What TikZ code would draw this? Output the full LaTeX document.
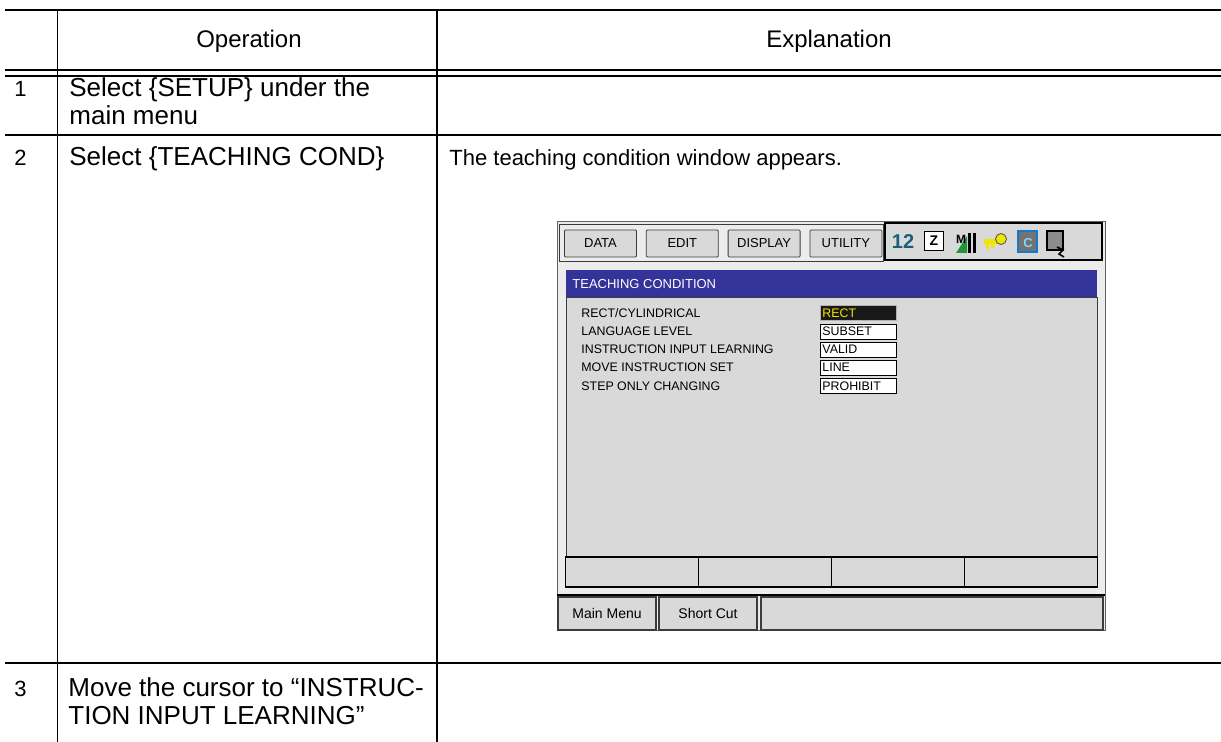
\documentclass[tikz,border=0pt]{standalone}
\usepackage{fontspec}
\setmainfont{Liberation Sans}
\usepackage{tikz}
\usetikzlibrary{positioning, calc}
\definecolor{tcTitle}{RGB}{51,51,153}
\definecolor{tcPanel}{RGB}{217,217,217}
\definecolor{tcFrame}{RGB}{236,236,236}
\definecolor{tcEdge}{RGB}{60,60,60}
\definecolor{tcYellow}{RGB}{240,230,0}
\definecolor{tcTeal}{RGB}{25,95,125}
\definecolor{tcGreen}{RGB}{30,150,60}

\begin{document}
\begin{tikzpicture}[x=0.5pt, y=-0.5pt,
    numtext/.style={anchor=base west, inner sep=0pt, font=\fontsize{11}{13}\selectfont},
    optext/.style={anchor=base west, inner sep=0pt, font=\fontsize{13}{15}\selectfont},
    extext/.style={anchor=base west, inner sep=0pt, font=\fontsize{11}{13}\selectfont},
    headtext/.style={anchor=base, inner sep=0pt, font=\fontsize{12}{14}\selectfont},
    menubtn/.style={draw=tcEdge, fill=tcPanel, rounded corners=0.5pt, minimum width=36pt, minimum height=13.5pt, inner sep=0pt, font=\fontsize{6.5}{7}\selectfont},
    setlabel/.style={anchor=west, inner sep=0pt, font=\fontsize{6.2}{7}\selectfont},
    valbox/.style={draw=black, fill=white, anchor=west, inner xsep=1pt, inner ysep=0pt, text width=36pt, minimum height=7.5pt, font=\fontsize{6.2}{7}\selectfont},
    fkey/.style={draw=black, line width=0.6pt, fill=tcPanel, minimum width=66.5pt, minimum height=15pt, inner sep=0pt},
    statbtn/.style={draw=tcEdge, line width=0.7pt, fill=tcPanel, minimum height=16.5pt, inner sep=0pt, font=\fontsize{7}{8}\selectfont}]
  \useasboundingbox (0,0) rectangle (1221,742);

  \draw[line width=1pt] (5,10) -- (1221,10);
  \draw[line width=1pt] (5,70) -- (1221,70);
  \draw[line width=1pt] (5,76) -- (1221,76);
  \draw[line width=0.6pt] (5,135) -- (1221,135);
  \draw[line width=0.6pt] (5,663) -- (1221,663);
  \draw[line width=0.6pt] (57.5,10) -- (57.5,742);
  \draw[line width=0.6pt] (437,10) -- (437,742);

  \node[headtext] (hop) at (249,48) {Operation};
  \node[headtext] (hex) at (829,48) {Explanation};

  \node[numtext] (n1) at (14,97) {1};
  \node[optext] (op1a) at (69,97) {Select \{SETUP\} under the};
  \node[optext] (op1b) at (69,125) {main menu};
  \node[numtext] (n2) at (14,166) {2};
  \node[optext] (op2) at (69,166) {Select \{TEACHING COND\}};
  \node[extext] (ex2) at (449,166) {The teaching condition window appears.};
  \node[numtext] (n3) at (14,697) {3};
  \node[optext] (op3a) at (68,697) {Move the cursor to “INSTRUC-};
  \node[optext] (op3b) at (68,725) {TION INPUT LEARNING”};

  \draw[tcEdge!80, fill=tcFrame] (557,221) rectangle (1105,630);
  \draw[tcEdge, fill=tcFrame] (559,224) rectangle (883,261);
  \node[menubtn] (bdata) at (600.5,243.5) {DATA};
  \node[menubtn, right=4.5pt of bdata] (bedit) {EDIT};
  \node[menubtn, right=4.5pt of bedit] (bdisp) {DISPLAY};
  \node[menubtn, right=4.5pt of bdisp] (butil) {UTILITY};

  \draw[black, line width=0.8pt, fill=tcPanel] (885,223) rectangle (1102,260);
  \node[inner sep=0pt, font=\bfseries\fontsize{10}{10}\selectfont, text=tcTeal] (ico1) at (903,242) {12};
  \node[draw=black, fill=white, line width=0.6pt, minimum width=9.5pt, minimum height=9.5pt, inner sep=0pt, font=\bfseries\fontsize{7}{7}\selectfont] (ico2) at (934,241) {Z};
  \fill[tcGreen] (956,253) -- (967,236) -- (967,253) -- cycle;
  \fill[black] (968,233) rectangle (971,253);
  \fill[black] (973,233) rectangle (976,253);
  \node[inner sep=0pt, font=\bfseries\fontsize{6}{6}\selectfont] (ico3) at (961,239) {M};
  \fill[tcYellow] (984,239) rectangle (998,244);
  \fill[tcYellow] (986,244) rectangle (989,249);
  \fill[tcYellow] (991,244) rectangle (994,248);
  \draw[black!70, fill=tcYellow] (1001,239) circle (5.5);
  \draw[cyan!60!blue, line width=0.8pt, fill=black!55] (1018,231) rectangle (1037,252);
  \node[inner sep=0pt, text=cyan!50!white, font=\bfseries\fontsize{6.5}{6.5}\selectfont] (ico5) at (1028,243) {C};
  \draw[black, line width=0.8pt, fill=black!45] (1047,231) rectangle (1063,250);
  \draw[black, line width=0.8pt] (1057,247) -- (1063,250) -- (1059,254) -- (1064,257);

  \fill[tcTitle] (566,270) rectangle (1097,297);
  \node[anchor=west, inner sep=0pt, text=white, font=\fontsize{6.5}{7}\selectfont] (ttl) at (572,284) {TEACHING CONDITION};
  \draw[tcEdge, fill=tcPanel] (566,297) rectangle (1097,557);

  \node[setlabel] (l1) at (581,313) {RECT/CYLINDRICAL};
  \node[setlabel] (l2) at (581,331.5) {LANGUAGE LEVEL};
  \node[setlabel] (l3) at (581,349.5) {INSTRUCTION INPUT LEARNING};
  \node[setlabel] (l4) at (581,367.5) {MOVE INSTRUCTION SET};
  \node[setlabel] (l5) at (581,386) {STEP ONLY CHANGING};
  \node[valbox, draw=white!70!black, fill=black!90, text=tcYellow] (v1) at (820,313) {RECT};
  \node[valbox] (v2) at (820,331.5) {SUBSET};
  \node[valbox] (v3) at (820,349.5) {VALID};
  \node[valbox] (v4) at (820,367.5) {LINE};
  \node[valbox] (v5) at (820,386) {PROHIBIT};

  \foreach \i in {1,...,4}
    \node[fkey] (fk\i) at ({566+132.75*(\i-0.5)},572) {};

  \draw[black, line width=0.8pt] (557,595) -- (1105,595);
  \node[statbtn, minimum width=49pt] (bmain) at (607,613.5) {Main Menu};
  \node[statbtn, minimum width=49pt] (bshort) at (708,613.5) {Short Cut};
  \node[statbtn, minimum width=171pt] (bmsg) at (932,613.5) {};
\end{tikzpicture}
\end{document}
